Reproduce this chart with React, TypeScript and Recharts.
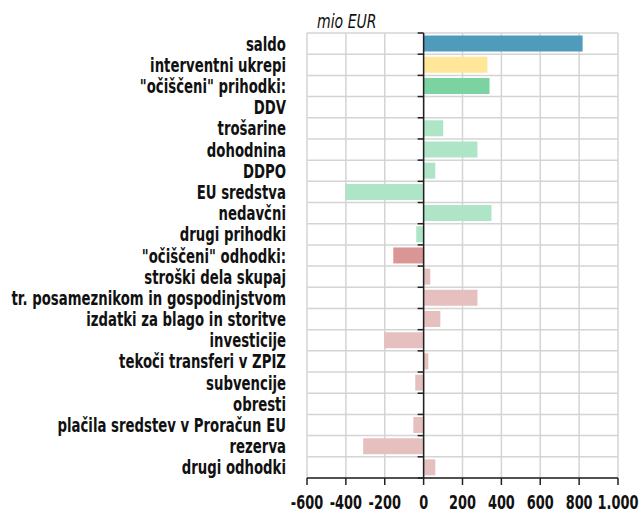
import { BarChart, Bar, XAxis, YAxis, CartesianGrid, ReferenceLine, Cell } from 'recharts';

const categories = [
  'saldo',
  'interventni ukrepi',
  '"očiščeni" prihodki:',
  'DDV',
  'trošarine',
  'dohodnina',
  'DDPO',
  'EU sredstva',
  'nedavčni',
  'drugi prihodki',
  '"očiščeni" odhodki:',
  'stroški dela skupaj',
  'tr. posameznikom in gospodinjstvom',
  'izdatki za blago in storitve',
  'investicije',
  'tekoči transferi v ZPIZ',
  'subvencije',
  'obresti ',
  'plačila sredstev v Proračun EU',
  'rezerva',
  'drugi odhodki',
];

const values = [818, 328, 339, 3, 101, 277, 60, -404, 349, -38, -156, 34, 277, 86, -203, 24, -43, 0, -53, -311, 60];

const barColors = [
  '#4E9BBC', '#FFE699', '#7AD3A0',
  '#AEE5C6', '#AEE5C6', '#AEE5C6', '#AEE5C6', '#AEE5C6', '#AEE5C6', '#AEE5C6',
  '#DA9694',
  '#E6BFBF', '#E6BFBF', '#E6BFBF', '#E6BFBF', '#E6BFBF', '#E6BFBF', '#E6BFBF', '#E6BFBF', '#E6BFBF', '#E6BFBF',
];

const xTicks = [-600, -400, -200, 0, 200, 400, 600, 800, 1000];
const xDomain = [-600, 1000];

const data = categories.map((name, i) => ({ name, value: values[i] }));

const W = 640;
const H = 513;
const xAxisHeight = 30;
const margin = { top: 33, right: 22, bottom: 5, left: 0 };
const yAxisWidth = 307;
const font = "'DejaVu Sans', sans-serif";

// x of the zero line, from the domain and plot width
const plotW = W - margin.left - margin.right - yAxisWidth;
const zeroX = margin.left + yAxisWidth + ((0 - xDomain[0]) / (xDomain[1] - xDomain[0])) * plotW;
const plotH = H - margin.top - margin.bottom - xAxisHeight;
const band = plotH / categories.length;

// condensed look: DejaVu squeezed horizontally
const CatTick = (props: any) => {
  const { x, y, payload, index } = props;
  return (
    <g>
      <text
        transform={`translate(${x - 13},${y + 7}) scale(0.7,1)`}
        textAnchor="end"
        fontSize={19}
        fontWeight="bold"
        fill="#111"
        fontFamily={font}
      >
        {payload.value}
      </text>
      {index === 0 && (
        <line x1={zeroX - 6} x2={zeroX} y1={y - band / 2} y2={y - band / 2} stroke="#222" strokeWidth={1.5} />
      )}
      <line x1={zeroX - 6} x2={zeroX} y1={y + band / 2} y2={y + band / 2} stroke="#222" strokeWidth={1.5} />
    </g>
  );
};

const fmt = (v: number) => (Math.abs(v) >= 1000 ? v.toLocaleString('de-DE') : String(v));

const NumTick = (props: any) => {
  const { x, y, payload } = props;
  return (
    <text
      transform={`translate(${x},${y + 22}) scale(0.68,1)`}
      textAnchor="middle"
      fontSize={19}
      fontWeight="bold"
      fill="#111"
      fontFamily={font}
    >
      {fmt(payload.value)}
    </text>
  );
};

export default function App() {
  return (
    <div style={{ position: 'absolute', left: 0, top: 0, background: '#fff' }}>
      <BarChart width={W} height={H} data={data} layout="vertical" margin={margin} barCategoryGap="12%">
        <CartesianGrid
          stroke="#d4d4d4"
          strokeWidth={1.5}
          horizontalCoordinatesGenerator={({ offset }: any) =>
            Array.from({ length: categories.length + 1 }, (_, i) => offset.top + (i * offset.height) / categories.length)
          }
        />
        <XAxis
          type="number"
          domain={xDomain}
          ticks={xTicks}
          interval={0}
          height={xAxisHeight}
          axisLine={{ stroke: '#222', strokeWidth: 1.5 }}
          tickLine={{ stroke: '#222', strokeWidth: 1.5 }}
          tickSize={7}
          tick={<NumTick />}
        />
        <YAxis
          type="category"
          dataKey="name"
          width={yAxisWidth}
          axisLine={false}
          tickLine={false}
          interval={0}
          tick={<CatTick />}
        />
        <Bar dataKey="value" isAnimationActive={false}>
          {data.map((d, i) => (
            <Cell key={d.name} fill={barColors[i]} />
          ))}
        </Bar>
        <ReferenceLine x={0} stroke="#222" strokeWidth={1.5} />
        <text transform="translate(317,28) scale(0.74,1)" fontSize={19} fontStyle="italic" fill="#111" fontFamily={font}>
          mio EUR
        </text>
      </BarChart>
    </div>
  );
}
